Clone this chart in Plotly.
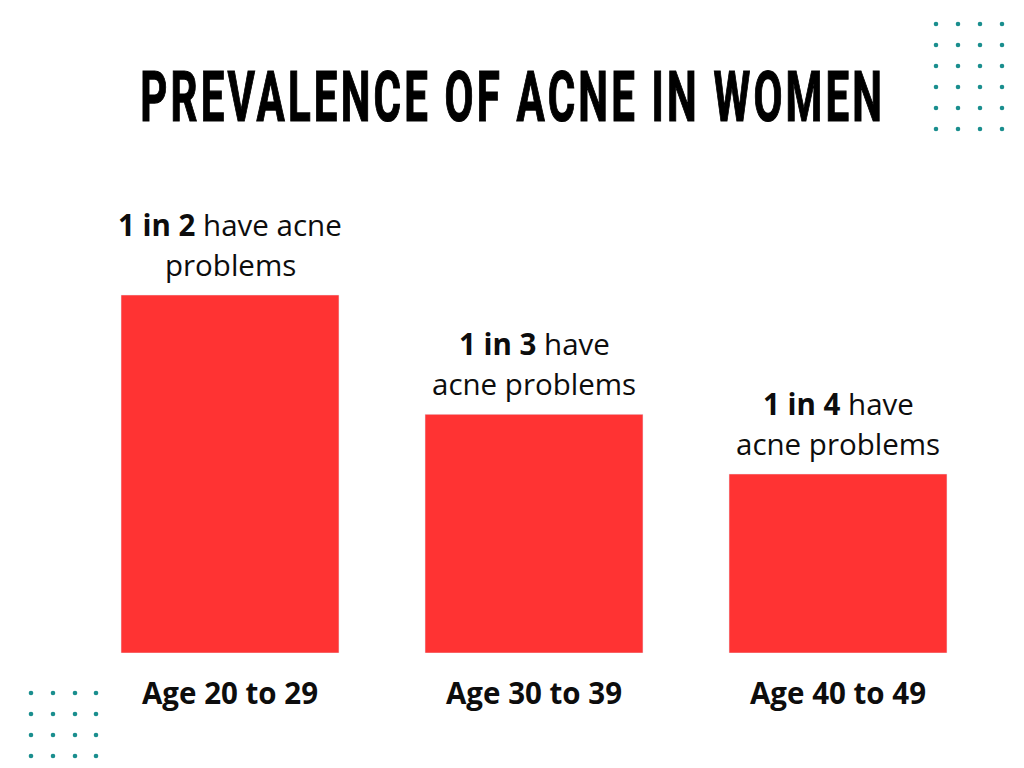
import plotly.graph_objects as go

title_text = "PREVALENCE OF ACNE IN WOMEN"
categories = ["Age 20 to 29", "Age 30 to 39", "Age 40 to 49"]
values = [1/2, 1/3, 1/4]
line1 = ["<b>1 in 2</b> have acne", "<b>1 in 3</b> have", "<b>1 in 4</b> have"]
line2 = ["problems", "acne problems", "acne problems"]

W, H = 1024, 768
ML, MR, MT, MB = 78, 34, 100, 115
PW, PH = W - ML - MR, H - MT - MB
ymax = 0.5 * PH / 358

bar_color = "#FF3333"
dot_color = "#1A8E8E"
text_font = "Open Sans, Noto Sans, sans-serif"
TITLE_SIZE = 40


def px2paper(px, py):
    return (px - ML) / PW, 1 - (py - MT) / PH


fig = go.Figure(go.Bar(
    x=list(range(len(categories))), y=values, marker_color=bar_color,
    width=0.717, hoverinfo="skip",
))

annotations = []
for i, v in enumerate(values):
    annotations.append(dict(x=i, y=v, xref="x", yref="y", text=line1[i], showarrow=False,
                            yanchor="middle", yshift=71, font=dict(family=text_font, size=29.5, color="#0d0d0d")))
    annotations.append(dict(x=i, y=v, xref="x", yref="y", text=line2[i], showarrow=False,
                            yanchor="middle", yshift=31, font=dict(family=text_font, size=29.5, color="#0d0d0d")))

tx, ty = px2paper((143 + 882) / 2, 97)
annotations.append(dict(x=tx, y=ty, xref="paper", yref="paper",
                        text="<b>" + title_text + "</b>", showarrow=False, xanchor="center", yanchor="middle",
                        font=dict(family="Roboto, Open Sans, sans-serif", size=TITLE_SIZE, color="#000")))

shapes = []
r = 2.3
for cx in [936, 958, 980, 1002]:
    for cy in [24, 45, 66, 87, 108, 129]:
        x0, y0 = px2paper(cx - r, cy - r)
        x1, y1 = px2paper(cx + r, cy + r)
        shapes.append(dict(type="circle", xref="paper", yref="paper", x0=x0, x1=x1, y0=y1, y1=y0,
                           fillcolor=dot_color, line_width=0))
for cx in [31, 53, 75, 96]:
    for cy in [693, 714, 735, 756]:
        x0, y0 = px2paper(cx - r, cy - r)
        x1, y1 = px2paper(cx + r, cy + r)
        shapes.append(dict(type="circle", xref="paper", yref="paper", x0=x0, x1=x1, y0=y1, y1=y0,
                           fillcolor=dot_color, line_width=0))

fig.update_layout(
    width=W, height=H, margin=dict(l=ML, r=MR, t=MT, b=MB),
    paper_bgcolor="white", plot_bgcolor="white", showlegend=False,
    annotations=annotations, shapes=shapes,
    xaxis=dict(tickmode="array", tickvals=list(range(len(categories))),
               ticktext=["<b>" + c + "</b>" for c in categories],
               range=[-0.5, 2.5], showgrid=False, zeroline=False, showline=False, ticks="",
               ticklabelstandoff=20,
               tickfont=dict(family=text_font, size=29.5, color="#0d0d0d"), fixedrange=True),
    yaxis=dict(range=[0, ymax], visible=False, fixedrange=True),
)

# Condense the title horizontally / stretch vertically to mimic a heavy condensed display face
post = """
var gd = document.getElementById('{plot_id}');
var ts = gd.querySelectorAll('g.annotation text');
ts.forEach(function(t){
  if (t.textContent.indexOf('PREVALENCE') >= 0) {
    t.style.letterSpacing = '3px';
    var bb = t.getBBox();
    var cx = bb.x + bb.width / 2, cy = bb.y + bb.height / 2;
    var sx = 745 / bb.width;
    var sy = 50 / (0.711 * %d);
    t.setAttribute('transform', 'translate(' + cx + ',' + cy + ') scale(' + sx + ',' + sy + ') translate(' + (-cx) + ',' + (-cy) + ')');
    t.style.strokeWidth = '0.7px';
    t.style.stroke = '#000';
  }
});
""" % TITLE_SIZE

fig.write_html("out.html", config={"displayModeBar": False}, post_script=post)
